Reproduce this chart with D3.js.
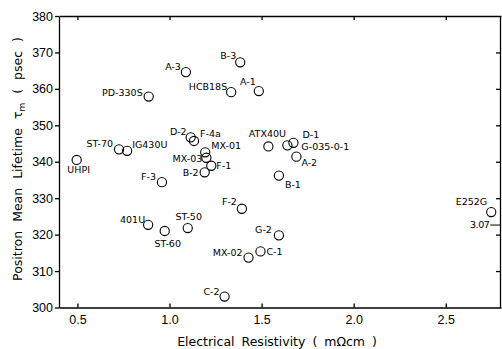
<!DOCTYPE html>
<html>
<head>
<meta charset="utf-8">
<script src="https://cdn.jsdelivr.net/npm/d3@7"></script>
<style>
  body { margin: 0; background: #fff; }
  svg { display: block; font-family: "DejaVu Sans", sans-serif; }
  .axis path, .axis line { stroke: #000; stroke-width: 1.3; }
  .axis text { font-size: 12.5px; fill: #000; }
  .lbl { font-size: 9.5px; fill: #000; }
</style>
</head>
<body>
<div id="chart"></div>
<script>
// sample grades
const names = ["B-3", "A-3", "HCB18S", "A-1", "PD-330S", "D-2", "F-4a", "MX-01", "MX-03", "F-1",
  "B-2", "ST-70", "IG430U", "UHPI", "F-3", "ATX40U", "G-035-0-1", "D-1", "A-2", "B-1",
  "F-2", "401U", "ST-60", "ST-50", "G-2", "C-1", "MX-02", "C-2", "E252G"];
// electrical resistivity (mOhm cm)
const resistivity = [1.384, 1.089, 1.335, 1.485, 0.887, 1.115, 1.133, 1.194, 1.200, 1.227,
  1.191, 0.726, 0.770, 0.496, 0.959, 1.537, 1.640, 1.673, 1.689, 1.594,
  1.393, 0.884, 0.974, 1.099, 1.594, 1.494, 1.429, 1.299, 2.747];
// positron mean lifetime (psec)
const lifetime = [367.3, 364.6, 359.1, 359.4, 357.9, 346.7, 345.7, 342.6, 341.1, 338.9,
  337.1, 343.4, 343.0, 340.5, 334.4, 344.2, 344.5, 345.2, 341.4, 336.2,
  327.1, 322.7, 321.0, 321.8, 319.8, 315.4, 313.7, 303.0, 326.2];

const xTicks = [0.5, 1.0, 1.5, 2.0, 2.5];
const yTicks = [300, 310, 320, 330, 340, 350, 360, 370, 380];

// where each label sits relative to its circle: [dx, dy, anchor]
const labelPlacement = {
  "B-3": [-4, -3, "end"], "A-3": [-5, -2, "end"], "HCB18S": [-4, -2, "end"],
  "A-1": [-3, -6, "end"], "PD-330S": [-6, -1, "end"], "D-2": [-4, -2, "end"],
  "F-4a": [6, -4, "start"], "MX-01": [6, -3, "start"], "MX-03": [-4, 4, "end"],
  "F-1": [5, 3, "start"], "B-2": [-6, 4, "end"], "ST-70": [-6, -2, "end"],
  "IG430U": [5, -3, "start"], "UHPI": [2, 13, "middle"], "F-3": [-6, -2, "end"],
  "ATX40U": [-1, -9, "middle"], "G-035-0-1": [14, 5, "start"], "D-1": [9, -5, "start"],
  "A-2": [5, 9, "start"], "B-1": [6, 12, "start"], "F-2": [-5, -4, "end"],
  "401U": [-3, -2, "end"], "ST-60": [3, 16, "middle"], "ST-50": [1, -8, "middle"],
  "G-2": [-7, -2, "end"], "C-1": [6, 3.5, "start"], "MX-02": [-6, -2, "end"],
  "C-2": [-5, -2, "end"], "E252G": [-4, -7, "end"]
};

const width = 502, height = 349;
const margin = {top: 16, right: 1, bottom: 41.5, left: 59};

const svg = d3.select("#chart").append("svg")
  .attr("width", width)
  .attr("height", height);

const x = d3.scaleLinear().domain([0.4, 2.8]).range([margin.left, width - margin.right]);
const y = d3.scaleLinear().domain([300, 380]).range([height - margin.bottom, margin.top]);

const fmt = d3.format(".1f");

//bottom axis, ticks point inward
svg.append("g").attr("class", "axis")
  .attr("transform", "translate(0," + y.range()[0] + ")")
  .call(d3.axisBottom(x).tickValues(xTicks).tickFormat(fmt).tickSizeInner(-4).tickSizeOuter(0).tickPadding(8));

//top frame
svg.append("g").attr("class", "axis")
  .attr("transform", "translate(0," + y.range()[1] + ")")
  .call(d3.axisTop(x).tickValues(xTicks).tickFormat("").tickSizeInner(-4).tickSizeOuter(0));

//left axis, ticks outward
svg.append("g").attr("class", "axis")
  .attr("transform", "translate(" + x.range()[0] + ",0)")
  .call(d3.axisLeft(y).tickValues(yTicks).tickSizeInner(4).tickSizeOuter(0).tickPadding(2));

//right frame
svg.append("g").attr("class", "axis")
  .attr("transform", "translate(" + (x.range()[1] - 1) + ",0)")
  .call(d3.axisRight(y).tickValues(yTicks.slice(1, -1)).tickFormat("").tickSizeInner(-4).tickSizeOuter(0));

const pts = names.map((n, i) => ({name: n, r: resistivity[i], t: lifetime[i]}));

svg.append("g")
  .selectAll("circle")
  .data(pts)
  .enter().append("circle")
    .attr("cx", d => x(d.r))
    .attr("cy", d => y(d.t))
    .attr("r", 4.6)
    .attr("fill", "none")
    .attr("stroke", "#000")
    .attr("stroke-width", 1.1);

svg.append("g")
  .selectAll("text")
  .data(pts)
  .enter().append("text")
    .attr("class", "lbl")
    .attr("x", d => x(d.r) + labelPlacement[d.name][0])
    .attr("y", d => y(d.t) + labelPlacement[d.name][1])
    .attr("text-anchor", d => labelPlacement[d.name][2])
    .text(d => d.name);

//axis break note for E252G (true value 3.07)
const brk = pts[pts.length - 1];
svg.append("text").attr("class", "lbl")
  .attr("x", x(brk.r) - 2)
  .attr("y", y(brk.t) + 16)
  .attr("text-anchor", "end")
  .style("letter-spacing", "-0.5px")
  .text("3.07");
svg.append("line")
  .attr("x1", x(brk.r) - 1).attr("x2", x.range()[1] - 1)
  .attr("y1", y(brk.t) + 13).attr("y2", y(brk.t) + 13)
  .attr("stroke", "#000").attr("stroke-width", 1);

//axis titles
svg.append("text")
  .attr("x", 277)
  .attr("y", 346)
  .attr("text-anchor", "middle")
  .style("font-size", "12.5px")
  .style("word-spacing", "3px")
  .text("Electrical Resistivity ( m\u03A9cm )");

const yt = svg.append("text")
  .attr("transform", "translate(22,159) rotate(-90)")
  .attr("text-anchor", "middle")
  .style("font-size", "12.5px")
  .style("word-spacing", "5px");
yt.append("tspan").text("Positron Mean Lifetime \u03C4");
yt.append("tspan").attr("dy", 3).style("font-size", "9px").text("m");
yt.append("tspan").attr("dy", -3).text(" ( psec )");
</script>
</body>
</html>
